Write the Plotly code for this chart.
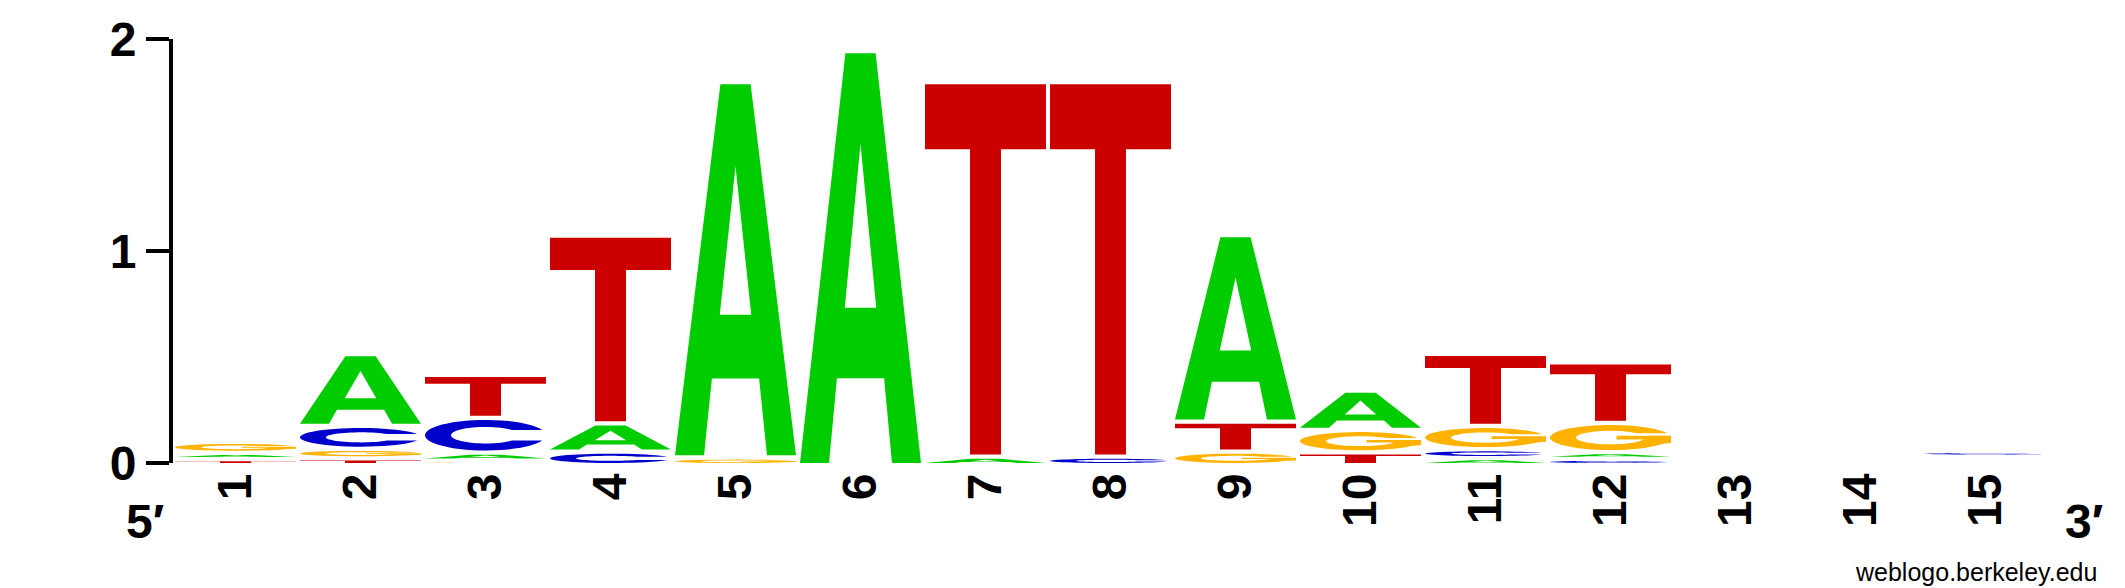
import plotly.graph_objects as go
import numpy as np

# sequence logo data: information content (bits) per letter and position
positions = list(range(1, 16))
bits_A = [0.010, 0.319, 0.018, 0.113, 1.750, 1.933, 0.020, 0, 0.860, 0.165, 0.013, 0.011, 0, 0, 0]
bits_C = [0, 0.088, 0.144, 0.044, 0, 0, 0, 0.020, 0, 0, 0.022, 0.010, 0, 0, 0.006]
bits_G = [0.032, 0.025, 0.001, 0, 0.016, 0, 0, 0, 0.044, 0.086, 0.090, 0.118, 0, 0, 0.0001]
bits_T = [0.008, 0.012, 0.183, 0.866, 0, 0, 1.747, 1.747, 0.121, 0.040, 0.320, 0.266, 0, 0, 0.0001]
y_ticks = [0, 1, 2]

colors = {'A': '#00CC00', 'C': '#0000CC', 'G': '#FFB300', 'T': '#CC0000'}
GAP = 0.02       # vertical space between stacked letters (bits)
HALF_W = 0.484   # half width of a letter column


def arc(cx, cy, rx, ry, a0, a1, n=48):
    t = np.radians(np.linspace(a0, a1, n))
    return list(zip(cx + rx * np.cos(t), cy + ry * np.sin(t)))


# letter outlines in a unit box (x right, y up)
GLYPHS = {
    'A': [[(0, 0), (0.24, 0), (0.305, 0.207), (0.695, 0.207), (0.76, 0), (1, 0),
           (0.625, 1), (0.375, 1)],
          [(0.37, 0.379), (0.5, 0.779), (0.63, 0.379)]],
    'T': [[(0, 1), (1, 1), (1, 0.824), (0.628, 0.824), (0.628, 0), (0.372, 0),
           (0.372, 0.824), (0, 0.824)]],
    'C': [arc(0.5, 0.5, 0.5, 0.5, 20.5, 339.5) + arc(0.5, 0.5, 0.285, 0.27, 319.6, 40.4)],
    'G': [arc(0.5, 0.5, 0.5, 0.5, 20.5, 330)
          + [(1.0, 0.28), (1.0, 0.57), (0.55, 0.57), (0.55, 0.42), (0.77, 0.42)]
          + arc(0.5, 0.5, 0.285, 0.27, 341.3, 40.4)],
}


def glyph_path(letter, x0, x1, y0, y1):
    parts = []
    for poly in GLYPHS[letter]:
        pts = [f"{x0 + u * (x1 - x0):.4f},{y0 + v * (y1 - y0):.5f}" for u, v in poly]
        parts.append("M" + " L".join(pts) + " Z")
    return " ".join(parts)


heights = {'A': bits_A, 'C': bits_C, 'G': bits_G, 'T': bits_T}
shapes = []
for i, p in enumerate(positions):
    col = [(heights[l][i], l) for l in 'ACGT' if heights[l][i] > 0]
    col.sort(key=lambda c: c[0])
    y = 0.0
    for h, l in col:
        shapes.append(dict(type='path', xref='x', yref='y', layer='above',
                           path=glyph_path(l, p - HALF_W, p + HALF_W, y, y + h),
                           fillcolor=colors[l], fillrule='evenodd', line=dict(width=0)))
        y += h + GAP

fig = go.Figure()
fig.add_trace(go.Scatter(x=positions, y=[0] * len(positions), mode='markers',
                         marker=dict(opacity=0), hoverinfo='skip', showlegend=False))

font_bold = dict(family='Liberation Sans, Arial, sans-serif', size=48, color='black', weight='bold')

fig.update_layout(
    width=2125, height=588,
    margin=dict(l=173, r=77, t=39, b=125),
    plot_bgcolor='white', paper_bgcolor='white',
    showlegend=False,
    shapes=shapes,
    xaxis=dict(range=[0.5, 15.5], tickvals=positions, ticktext=[str(p) for p in positions],
               tickangle=-90, showgrid=False, zeroline=False, showline=False, ticks='',
               tickfont=font_bold, fixedrange=True),
    yaxis=dict(range=[0, 2], tickvals=y_ticks, ticktext=[str(t) for t in y_ticks],
               showgrid=False, zeroline=False, showline=True, linewidth=4, linecolor='black',
               ticks='outside', ticklen=23, tickwidth=4, tickcolor='black',
               tickfont=font_bold, fixedrange=True),
    annotations=[
        dict(text='5′', xref='paper', yref='paper', x=-0.0149, y=-0.1368,
             xanchor='center', yanchor='middle', showarrow=False, font=font_bold),
        dict(text='3′', xref='paper', yref='paper', x=1.0192, y=-0.1368,
             xanchor='center', yanchor='middle', showarrow=False, font=font_bold),
        dict(text='weblogo.berkeley.edu', xref='paper', yref='paper', x=1.0272, y=-0.2571,
             xanchor='right', yanchor='middle', showarrow=False,
             font=dict(family='Liberation Sans, Arial, sans-serif', size=25, color='black')),
    ],
)

fig.write_html("out.html", config={'displayModeBar': False},
               post_script="document.body.style.margin='0';")
